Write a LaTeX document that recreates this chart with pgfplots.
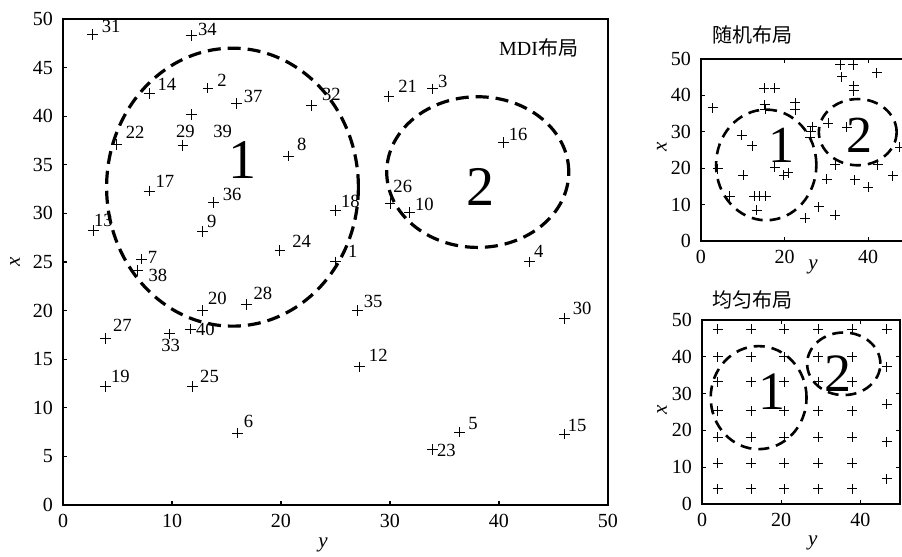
\documentclass[border=0pt]{standalone}
\usepackage{fontspec}
\setmainfont{Liberation Serif}
\newfontfamily\cjk{Noto Sans CJK SC}
\usepackage{pgfplots}
\pgfplotsset{compat=1.18}
\usepackage{pgfplotstable}

\pgfplotstableread{
x y lbl dx dy
2.7 48.4 31 4.5 1
11.8 48.3 34 3 0
7.9 42.3 14 4 1.5
13.3 42.9 2 4.5 1
15.9 41.3 37 3.5 0.5
22.8 41.1 32 5 2.5
11.8 40.2 29 -8 -11.5
11.0 37.0 39 15 4
4.9 37.1 22 4.5 3
20.7 35.9 8 4 3
7.9 32.3 17 3 2
13.8 31.1 36 4.5 1
25.0 30.3 18 2.5 1.5
2.8 28.2 13 0 2
12.8 28.1 9 2 2
19.9 26.2 24 6 1.5
25.0 25.0 1 6 2
7.2 25.3 7 3 -2
6.8 24.1 38 5.5 -5.5
12.8 20.0 20 2.5 3
16.8 20.6 28 3.5 2.5
27.0 20.0 35 3 1.5
3.9 17.1 27 3.5 3.5
9.8 17.6 33 -4.5 -9
11.7 18.1 40 2.5 -3
3.9 12.2 19 2.5 2
11.9 12.2 25 3.5 2
27.2 14.2 12 4.5 2.5
16.0 7.4 6 3 3
29.9 42.0 21 4.5 2
33.9 42.8 3 2.5 0.5
40.4 37.3 16 2.5 1
30.0 31.0 26 1.5 5.5
31.8 30.1 10 2.5 1
42.8 25.0 4 2 2
46.0 19.2 30 4 2
36.4 7.5 5 4 1.5
33.9 5.7 23 2 -3.5
46.0 7.3 15 1.5 1.5
}\mdidata

\pgfplotstableread{
x y
2.8 36.6
15.1 41.9
17.7 41.9
15.2 37.4
15.4 36.2
22.6 38.0
22.6 36.1
26.6 31.4
26.3 30.0
26.1 28.5
30.4 32.3
33.3 48.4
36.4 48.4
33.7 45.1
42.1 46.2
36.6 42.6
36.6 41.3
34.9 31.3
47.6 25.8
4.0 19.9
9.7 29.1
12.3 26.1
10.1 18.0
17.7 20.2
19.8 18.1
20.9 18.7
6.9 12.3
12.7 12.3
14.1 12.3
15.5 12.3
13.3 8.4
24.9 6.3
28.2 9.4
32.1 7.1
30.1 17.0
32.1 20.9
36.8 16.8
40.0 14.8
42.3 20.9
45.9 17.9
}\randdata

\pgfplotstableread{
x y
4.0 47.5
4.0 40.0
4.0 33.2
4.0 25.3
4.0 18.1
4.0 11.1
4.0 4.1
12.4 47.5
12.4 40.0
12.4 33.2
12.4 25.3
12.4 18.1
12.4 11.1
12.4 4.1
20.8 47.5
20.8 40.0
20.8 33.2
20.8 25.3
20.8 18.1
20.8 11.1
20.8 4.1
29.4 47.5
29.4 40.0
29.4 33.2
29.4 25.3
29.4 18.1
29.4 11.1
29.4 4.1
38.0 47.5
38.0 40.0
38.0 33.2
38.0 25.3
38.0 18.1
38.0 11.1
38.0 4.1
46.6 47.5
46.6 37.3
46.6 27.1
46.6 16.9
46.6 6.8
}\unidata

\begin{document}
\begin{tikzpicture}
\pgfplotsset{
  common/.style={
    scale only axis,
    anchor=south west,
    xmin=0, xmax=50, ymin=0, ymax=50,
    axis line style={line width=0.6pt},
    tick align=inside,
    major tick length=2pt,
    tick style={black, line width=0.6pt},
    ticklabel style={font=\fontsize{10}{10}\selectfont},
    yticklabel style={xshift=-1.5pt},
    xticklabel style={yshift=-1pt},
    /pgf/number format/assume math mode=true,
    label style={font=\fontsize{10.5}{10.5}\selectfont},
    clip=false,
  },
  mk/.style={only marks, mark=+, mark size=2.7pt, mark options={line width=0.5pt, black}, black},
}
% ---------------- main MDI plot ----------------
\begin{axis}[common,
  at={(31.5pt,26pt)}, width=272.5pt, height=243pt,
  xtick={0,10,...,50}, ytick={0,5,...,50},
  tick pos=left,
  xlabel={\textit{y}}, ylabel={\textit{x}},
  xlabel style={at={(axis description cs:0.477,-0.082)}, anchor=center},
  ylabel style={at={(axis description cs:-0.088,0.5)}, anchor=center},
]
\addplot[mk,
  point meta=explicit symbolic,
  visualization depends on={\thisrow{dx}\as\dx},
  visualization depends on={\thisrow{dy}\as\dy},
  nodes near coords,
  every node near coord/.append style={anchor=base west, inner sep=0pt,
     xshift=\dx pt, yshift=\dy pt, font=\fontsize{9.3}{9.3}\selectfont},
] table[x=x, y=y, meta=lbl] {\mdidata};
\draw[line width=1.6pt, dash pattern=on 6.5pt off 3.5pt]
  (axis cs:15.55,32.7) ellipse [x radius=11.55, y radius=14.3];
\draw[line width=1.6pt, dash pattern=on 6.5pt off 3.5pt]
  (axis cs:38.05,34.25) ellipse [x radius=8.35, y radius=7.75];
\node[font=\fontsize{28}{28}\selectfont] at (axis cs:16.5,35.5) {1};
\node[font=\fontsize{28}{28}\selectfont] at (axis cs:38.3,32.7) {2};
\node[anchor=east, font=\fontsize{10}{10}\selectfont] at (axis cs:47.9,47.0) {MDI{\cjk 布局}};
\end{axis}
% ---------------- random layout ----------------
\begin{axis}[common,
  at={(350.5pt,158pt)}, width=104.5pt, height=91pt,
  xtick={0,20,40}, ytick={0,10,...,50},
  xlabel={\textit{y}}, ylabel={\textit{x}},
  xlabel style={at={(axis description cs:0.536,-0.143)}, anchor=center},
  ylabel style={at={(axis description cs:-0.187,0.516)}, anchor=center},
]
\addplot[mk, mark size=2.5pt] table[x=x, y=y] {\randdata};
\draw[line width=1.3pt, dash pattern=on 5.5pt off 3.5pt]
  (axis cs:15.6,20.9) ellipse [x radius=12.0, y radius=15.2];
\draw[line width=1.3pt, dash pattern=on 5.5pt off 3.5pt]
  (axis cs:37.5,29.9) ellipse [x radius=9.3, y radius=9.1];
\node[font=\fontsize{26}{26}\selectfont] at (axis cs:19.3,26.3) {1};
\node[font=\fontsize{26}{26}\selectfont] at (axis cs:37.8,29.1) {2};
\node[anchor=west, font=\cjk\fontsize{10}{10}\selectfont] at (rel axis cs:0.02,1.13) {随机布局};
\end{axis}
% ---------------- uniform layout ----------------
\begin{axis}[common,
  at={(351pt,26.5pt)}, width=99pt, height=92pt,
  xtick={0,20,40}, ytick={0,10,...,50},
  xlabel={\textit{y}}, ylabel={\textit{x}},
  xlabel style={at={(axis description cs:0.56,-0.212)}, anchor=center},
  ylabel style={at={(axis description cs:-0.202,0.51)}, anchor=center},
]
\addplot[mk, mark size=2.5pt] table[x=x, y=y] {\unidata};
\draw[line width=1.3pt, dash pattern=on 5.5pt off 3.5pt]
  (axis cs:14.3,28.9) ellipse [x radius=12.1, y radius=14.0];
\draw[line width=1.3pt, dash pattern=on 5.5pt off 3.5pt]
  (axis cs:35.8,38.1) ellipse [x radius=9.25, y radius=8.5];
\node[font=\fontsize{27}{27}\selectfont] at (axis cs:17.6,30.5) {1};
\node[font=\fontsize{27}{27}\selectfont] at (axis cs:34.3,35.5) {2};
\node[anchor=west, font=\cjk\fontsize{10}{10}\selectfont] at (rel axis cs:0.015,1.109) {均匀布局};
\end{axis}
\pgfresetboundingbox
\path[use as bounding box] (0pt,0pt) rectangle (451pt,278.5pt);
\end{tikzpicture}
\end{document}
